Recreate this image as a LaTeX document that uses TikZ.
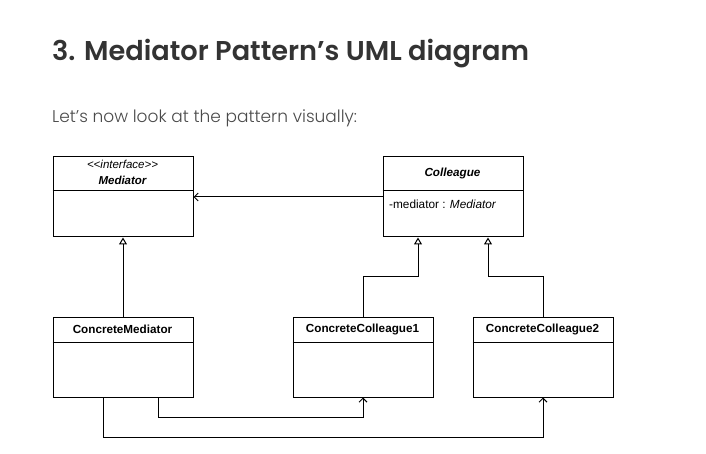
\documentclass[tikz,border=0pt]{standalone}
\usepackage{fontspec}
\setmainfont{Liberation Sans}
\newfontfamily\titlefont{Poppins SemiBold}
\newfontfamily\subfont{Poppins Light}
\usetikzlibrary{arrows.meta,calc}
\definecolor{titlegray}{HTML}{333333}
\definecolor{subgray}{HTML}{4A4A4A}
\begin{document}
\begin{tikzpicture}[x=1pt,y=-1pt,
  classbox/.style={draw,line width=1pt,minimum width=140pt,minimum height=80pt,anchor=north west,inner sep=0pt},
  classname/.style={font=\fontsize{11.7}{13}\selectfont\bfseries,anchor=center},
  assoc/.style={line width=1pt,-{Straight Barb[length=4pt,width=8pt,line width=1pt]}},
  inherit/.style={line width=1pt,-{Triangle[open,length=7pt,width=8pt,line width=1pt]}}]
\useasboundingbox (0,0) rectangle (706,454);
\node[anchor=base west,inner sep=0pt,text=titlegray,font=\fontsize{27.2}{32}\titlefont] (title) at (52,61) {3. Mediator Pattern’s UML diagram};
\node[anchor=base west,inner sep=0pt,text=subgray,font=\fontsize{17}{20}\subfont] (sub) at (52,122.5) {Let’s now look at the pattern visually:};
% boxes
\node[classbox] (med) at (52.5,156.5) {};
\node[classbox] (col) at (382.5,156.5) {};
\node[classbox] (cmed) at (52.5,316.5) {};
\node[classbox] (cc1) at (292.5,316.5) {};
\node[classbox] (cc2) at (472.5,316.5) {};
% dividers
\draw[line width=1pt] ([yshift=-34pt]med.north west) -- ([yshift=-34pt]med.north east);
\draw[line width=1pt] ([yshift=-34pt]col.north west) -- ([yshift=-34pt]col.north east);
\draw[line width=1pt] ([yshift=-26pt]cmed.north west) -- ([yshift=-26pt]cmed.north east);
\draw[line width=1pt] ([yshift=-26pt]cc1.north west) -- ([yshift=-26pt]cc1.north east);
\draw[line width=1pt] ([yshift=-26pt]cc2.north west) -- ([yshift=-26pt]cc2.north east);
% names
\node[align=center,font=\fontsize{11.5}{16}\selectfont\itshape,inner sep=0pt] (medname) at (122.5,172.5) {<{}<interface>{}>\\\textbf{Mediator}};
\node[classname,font=\fontsize{11.7}{13}\selectfont\bfseries\itshape] (colname) at (452.5,173.5) {Colleague};
\node[anchor=base west,font=\fontsize{11.8}{14}\selectfont,inner sep=0pt] (colattr) at (389,208.5) {-mediator : \textit{Mediator}};
\node[classname] (cmedname) at (122.5,329.5) {ConcreteMediator};
\node[classname] (cc1name) at (362.5,329.5) {ConcreteColleague1};
\node[classname] (cc2name) at (542.5,329.5) {ConcreteColleague2};
% connectors
\draw[assoc] (col.west) -- (med.east);
\draw[inherit] (cmed.north) -- (med.south);
\draw[inherit] (cc1.north) -- ++(0,-40) -| ([xshift=-35pt]col.south);
\draw[inherit] (cc2.north) -- ++(0,-40) -| ([xshift=35pt]col.south);
\draw[assoc] ([xshift=35pt]cmed.south) -- ++(0,20) -| (cc1.south);
\draw[assoc] ([xshift=-20pt]cmed.south) -- ++(0,40) -| (cc2.south);
\end{tikzpicture}
\end{document}
